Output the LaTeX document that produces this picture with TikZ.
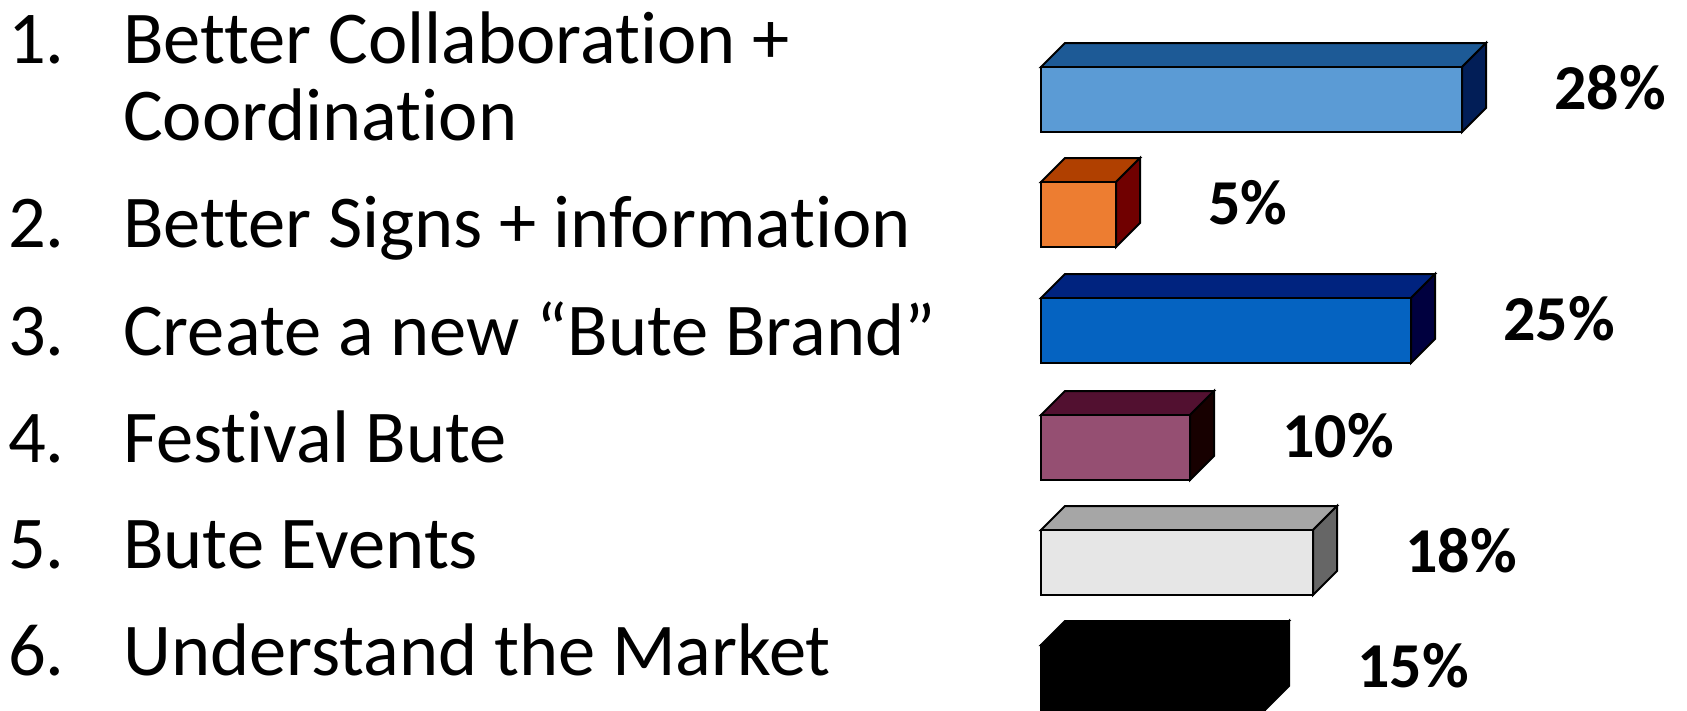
\documentclass[tikz,border=0pt]{standalone}
\usepackage{fontspec}
\setmainfont{Carlito}[Ligatures={NoCommon,NoDiscretionary,NoContextual}]
\definecolor{f1}{HTML}{5B9BD5}\definecolor{t1}{HTML}{1D5A96}\definecolor{s1}{HTML}{021E57}
\definecolor{f2}{HTML}{ED7D31}\definecolor{t2}{HTML}{B04000}\definecolor{s2}{HTML}{700000}
\definecolor{f3}{HTML}{0563C1}\definecolor{t3}{HTML}{00237F}\definecolor{s3}{HTML}{00003F}
\definecolor{f4}{HTML}{954F72}\definecolor{t4}{HTML}{521030}\definecolor{s4}{HTML}{170000}
\definecolor{f5}{HTML}{E6E6E6}\definecolor{t5}{HTML}{A6A6A6}\definecolor{s5}{HTML}{666666}
\definecolor{f6}{HTML}{000000}\definecolor{t6}{HTML}{000000}\definecolor{s6}{HTML}{000000}
\tikzset{
  listtext/.style={anchor=base west, inner sep=0pt, font=\fontsize{74.5}{74.5}\selectfont},
  pctlabel/.style={anchor=base west, inner sep=0pt, font=\fontsize{64}{64}\selectfont\bfseries},
  face/.style={draw=black, line width=2pt, line join=miter}
}
\begin{document}
\begin{tikzpicture}[x=1pt,y=-1pt]
\useasboundingbox (0,0) rectangle (1687,710);
\clip (0,0) rectangle (1687,710);
% list
\node[listtext] (n1) at (8,63) {1.};
\node[listtext] (l1) at (123,63) {Better Collaboration +};
\node[listtext] (l1b) at (123,140) {Coordination};
\node[listtext] (n2) at (8,247) {2.};
\node[listtext] (l2) at (123,247) {Better Signs + information};
\node[listtext] (n3) at (8,355) {3.};
\node[listtext] (l3) at (123,355) {Create a new “Bute Brand”};
\node[listtext] (n4) at (8,462) {4.};
\node[listtext] (l4) at (123,462) {Festival Bute};
\node[listtext] (n5) at (8,568) {5.};
\node[listtext] (l5) at (123,568) {Bute Events};
\node[listtext] (n6) at (8,675) {6.};
\node[listtext] (l6) at (123,675) {Understand the Market};
% bars
\foreach \i/\w/\y/\lab in {1/421/67/28\%, 2/75/182/5\%, 3/370/298/25\%, 4/149/415/10\%, 5/272/530/18\%, 6/224/645/15\%}{
  \draw[face, fill=t\i] (1041,\y) -- ++(24,-24) -- ++(\w,0) -- ++(-24,24) -- cycle;
  \draw[face, fill=s\i] (1041+\w,\y) -- ++(24,-24) -- ++(0,65) -- ++(-24,24) -- cycle;
  \draw[face, fill=f\i] (1041,\y) rectangle ++(\w,65);
  \node[pctlabel] (p\i) at (1041+\w+24+68,\y+42) {\lab};
}
\end{tikzpicture}
\end{document}
